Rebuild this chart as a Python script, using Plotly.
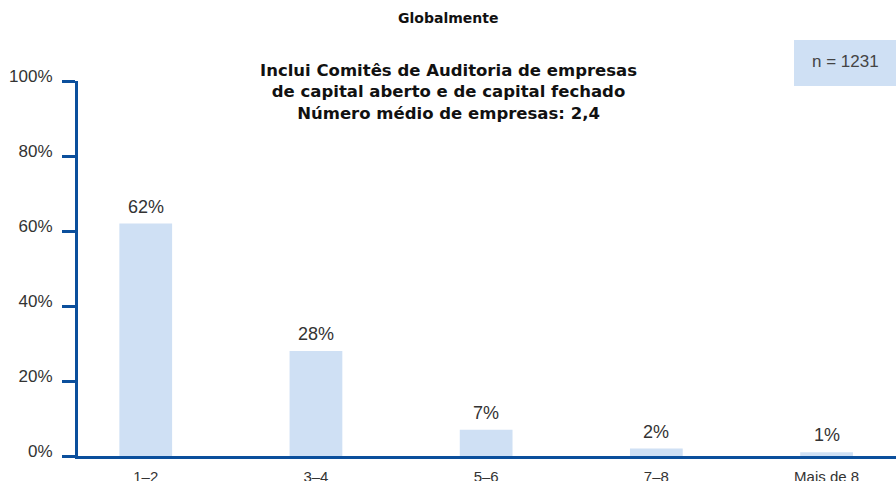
# ----------------------------------------------------------------------------------------------------------------------
# Libraries import
# ----------------------------------------------------------------------------------------------------------------------
import plotly.graph_objects as go

# ----------------------------------------------------------------------------------------------------------------------
# Configuration and Global Variables
# ----------------------------------------------------------------------------------------------------------------------
categorias = ["1–2", "3–4", "5–6", "7–8", "Mais de 8"]
porcentajes = [62, 28, 7, 2, 1]
etiquetas = ["62%", "28%", "7%", "2%", "1%"]
y_ticks = [0, 20, 40, 60, 80, 100]
y_tick_labels = ["0%", "20%", "40%", "60%", "80%", "100%"]

titulo = "Globalmente"
subtitulo = ("Inclui Comitês de Auditoria de empresas<br>"
             "de capital aberto e de capital fechado<br>"
             "Número médio de empresas: 2,4")
nota_n = "n = 1231"

AZUL_CLARO = "#cfe0f4"
AZUL_EJE = "#0b4f9c"
GRIS_TEXTO = "#333333"
FUENTE = "Liberation Sans, Arial, sans-serif"
FUENTE_TITULO = "DejaVu Sans, sans-serif"

# Márgenes del área de trazado (px)
M_IZQ, M_SUP, M_INF = 78, 81, 25
ANCHO, ALTO = 896, 481


def px_x(p):
    return (p - M_IZQ) / (ANCHO - M_IZQ)


def px_y(p):
    return (ALTO - M_INF - p) / (ALTO - M_INF - M_SUP)


# ----------------------------------------------------------------------------------------------------------------------
# Function Definition
# ----------------------------------------------------------------------------------------------------------------------
def plot_distribucion(cats, vals, textos):
    """
    Crea el gráfico de barras con la distribución de empresas.
    :return: fig: Objeto de plotly.
    """
    fig = go.Figure()
    fig.add_trace(go.Bar(x=list(range(len(cats))), y=vals, marker_color=AZUL_CLARO,
                         marker_line_width=0, width=0.31, hoverinfo="skip"))

    # Etiquetas encima de cada barra
    for i, (v, t) in enumerate(zip(vals, textos)):
        fig.add_annotation(x=i, y=v, text=t, showarrow=False, yanchor="bottom", yshift=5,
                           font=dict(size=18, color=GRIS_TEXTO, family=FUENTE))

    fig.update_layout(width=ANCHO, height=ALTO, plot_bgcolor="white", paper_bgcolor="white",
                      margin=dict(l=M_IZQ, r=0, t=M_SUP, b=M_INF, autoexpand=False), showlegend=False,
                      font=dict(family=FUENTE, color=GRIS_TEXTO, size=16))

    fig.update_xaxes(range=[-0.398, 4.408], tickvals=list(range(len(cats))), ticktext=cats,
                     showline=True, linewidth=3, linecolor=AZUL_EJE, showgrid=False,
                     zeroline=False, ticks="", ticklabelstandoff=5, automargin=False,
                     tickfont=dict(size=15, color=GRIS_TEXTO))

    fig.update_yaxes(range=[0, 100], tickvals=y_ticks, ticktext=y_tick_labels,
                     showline=True, linewidth=3, linecolor=AZUL_EJE, showgrid=False,
                     zeroline=False, ticks="outside", ticklen=13, tickwidth=3, tickcolor=AZUL_EJE,
                     ticklabelstandoff=6, ticklabelshift=-5, automargin=False,
                     tickfont=dict(size=17, color=GRIS_TEXTO))

    # Títulos
    fig.add_annotation(x=px_x(448), xref="paper", y=px_y(18), yref="paper", text="<b>" + titulo + "</b>",
                       showarrow=False, xanchor="center", yanchor="middle",
                       font=dict(size=14, color="#111111", family=FUENTE_TITULO))
    fig.add_annotation(xref="paper", yref="paper", x=px_x(448), y=px_y(92),
                       text="<b>" + subtitulo + "</b>", showarrow=False, xanchor="center", yanchor="middle",
                       font=dict(size=16.5, color="#111111", family=FUENTE_TITULO), align="center")

    # Caja con el tamaño de la muestra
    fig.add_shape(type="rect", xref="paper", yref="paper", x0=px_x(794), x1=1.0,
                  y0=px_y(86), y1=px_y(40), fillcolor=AZUL_CLARO, line_width=0,
                  layer="below")
    fig.add_annotation(xref="paper", yref="paper", x=px_x(845), y=px_y(61),
                       text=nota_n, showarrow=False, xanchor="center", yanchor="middle",
                       font=dict(size=17, color="#444444"))
    return fig


fig = plot_distribucion(categorias, porcentajes, etiquetas)
# Sin margen del body para que la figura ocupe la ventana completa
fig.write_html("out.html", config={"displayModeBar": False},
               post_script="document.body.style.margin='0px';")
